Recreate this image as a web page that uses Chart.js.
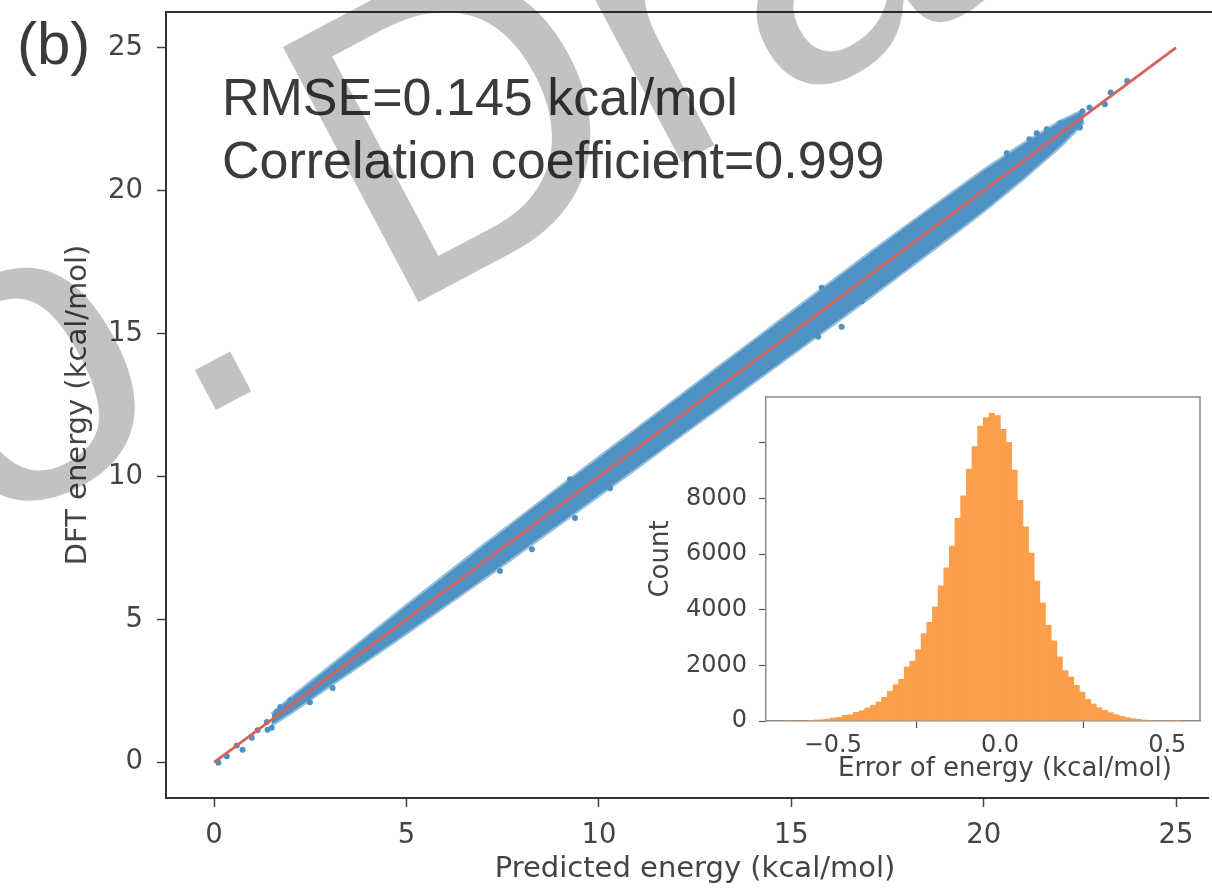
<!DOCTYPE html>
<html><head><meta charset="utf-8">
<script src="https://cdn.jsdelivr.net/npm/chart.js@4.4.1/dist/chart.umd.min.js"></script>
<style>
html,body{margin:0;padding:0;background:#fff;}
#wrap{position:relative;width:1212px;height:889px;overflow:hidden;background:#fff;}
#main{position:absolute;left:0;top:0;}
#inset{position:absolute;left:620px;top:385px;}
</style></head><body>
<div id="wrap"><canvas id="main" width="1212" height="889"></canvas><canvas id="inset" width="592" height="420"></canvas></div>
<script>
// ---- main panel data ----
const xTicks = [0, 5, 10, 15, 20, 25];
const yTicks = [0, 5, 10, 15, 20, 25];
const refLineX = [0, 25];
const refLineY = [0, 25];
// dense scatter band (visual envelope of the point cloud)
const bandX     = [1.5, 2, 3, 4, 5, 6, 7, 8, 9, 10, 11, 12, 13, 14, 15, 16, 17, 18, 19, 20, 21, 22, 22.6];
const bandUpper = [1.68, 2.25, 3.32, 4.4, 5.47, 6.52, 7.57, 8.6, 9.63, 10.65, 11.67, 12.68, 13.7, 14.71, 15.73, 16.75, 17.76, 18.75, 19.73, 20.7, 21.6, 22.42, 22.8];
const bandLower = [1.32, 1.75, 2.68, 3.6, 4.53, 5.48, 6.43, 7.4, 8.37, 9.35, 10.33, 11.32, 12.3, 13.29, 14.27, 15.25, 16.24, 17.25, 18.27, 19.3, 20.4, 21.58, 22.4];
// isolated points (cloud ends and outliers near the edges)
const sparseX = [0.11, 0.33, 0.59, 0.74, 0.98, 1.13, 1.39, 1.50, 1.37, 1.63, 1.72, 1.98, 2.23, 2.49, 2.58, 3.08, 2.93,
                 7.43, 8.26, 9.38, 10.29, 9.25, 15.79, 16.83, 17.13, 15.70, 16.31,
                 23.73, 23.30, 23.15, 22.75, 22.57, 22.50, 21.99, 21.64, 21.38, 21.19, 20.60, 20.38];
const sparseY = [-0.02, 0.21, 0.59, 0.44, 0.86, 1.12, 1.14, 1.21, 1.41, 1.75, 1.93, 2.16, 2.28, 2.10, 2.51, 2.60, 2.97,
                 6.69, 7.45, 8.55, 9.59, 9.90, 16.60, 16.13, 17.76, 14.89, 15.24,
                 23.84, 23.43, 23.02, 22.91, 22.78, 22.21, 22.36, 22.15, 22.01, 21.80, 21.31, 20.90];

// ---- inset histogram data ----
const binCenters = [-0.6326,-0.6157,-0.5988,-0.5819,-0.5650,-0.5481,-0.5312,-0.5144,-0.4975,-0.4806,
  -0.4637,-0.4468,-0.4299,-0.4130,-0.3961,-0.3793,-0.3624,-0.3455,-0.3286,-0.3117,
  -0.2948,-0.2779,-0.2611,-0.2442,-0.2273,-0.2104,-0.1935,-0.1766,-0.1597,-0.1429,
  -0.1260,-0.1091,-0.0922,-0.0753,-0.0584,-0.0415,-0.0247,-0.0078,0.0091,0.0260,
  0.0429,0.0598,0.0767,0.0935,0.1104,0.1273,0.1442,0.1611,0.1780,0.1949,
  0.2117,0.2286,0.2455,0.2624,0.2793,0.2962,0.3131,0.3299,0.3468,0.3637,
  0.3806,0.3975,0.4144,0.4312,0.4481,0.4650,0.4819,0.4988,0.5157,0.5326];
const binCounts = [5,10,15,25,36,48,60,84,120,144,
  216,240,324,384,480,576,696,864,1080,1320,
  1512,1956,2160,2580,3156,3564,4116,4872,5520,6300,
  7296,8112,9072,9876,10620,10920,11076,10992,10500,10032,
  9036,7944,6996,6048,5040,4260,3456,2892,2316,1824,
  1596,1296,1056,792,624,492,396,312,240,180,
  132,96,72,48,36,24,12,8,5,3];
const insetXTicks = [-0.5, 0, 0.5];
const insetXTickLabels = ['\u22120.5', '0.0', '0.5'];
const insetYTicks = [0, 2000, 4000, 6000, 8000, 10000];
const insetYTickLabels = ['0', '2000', '4000', '6000', '8000', ''];

const annoLines = ['RMSE=0.145 kcal/mol', 'Correlation coefficient=0.999'];
const panelLabel = '(b)';
const watermark = 'No. Draft';
const xTitle = 'Predicted energy (kcal/mol)';

const BLUE = '#4e92c4', BLUE_EDGE = 'rgba(78,146,196,0.6)', RED = '#d8605c', ORANGE = '#fb9f4b', INK = '#444444';

const zeroPad = s => { s.paddingTop = 0; s.paddingBottom = 0; s.paddingLeft = 0; s.paddingRight = 0; };

const mainDecor = {
  id: 'mainDecor',
  afterDraw(chart) {
    const ctx = chart.ctx, a = chart.chartArea;
    ctx.save();
    ctx.strokeStyle = '#333'; ctx.lineWidth = 2;
    ctx.beginPath(); ctx.moveTo(a.left - 1, a.top); ctx.lineTo(1212, a.top); ctx.stroke();
    ctx.fillStyle = INK;
    ctx.textBaseline = 'alphabetic'; ctx.textAlign = 'center';
    ctx.font = '29px "DejaVu Sans"';
    ctx.fillText(xTitle, 695, 877);
    ctx.fillStyle = '#3b3b3b';
    ctx.textAlign = 'left';
    ctx.font = '60px "Liberation Sans", Arial, sans-serif';
    ctx.fillText(panelLabel, 17, 64);
    ctx.font = '52px "Liberation Sans", Arial, sans-serif';
    ctx.fillText(annoLines[0], 222, 115);
    ctx.fillText(annoLines[1], 222, 178);
    // watermark
    ctx.globalCompositeOperation = 'multiply';
    ctx.fillStyle = '#c2c2c2';
    ctx.translate(-292, 680);
    ctx.rotate(-28 * Math.PI / 180);
    ctx.font = '420px "Liberation Sans", Arial, sans-serif';
    ctx.fillText(watermark, 0, 0);
    ctx.restore();
  }
};

new Chart(document.getElementById('main'), {
  type: 'scatter',
  data: {
    datasets: [
      { type: 'line', data: refLineX.map((v, i) => ({x: v, y: refLineY[i]})), borderColor: RED, borderWidth: 2.8, pointRadius: 0, fill: false, order: 0 },
      { type: 'scatter', data: sparseX.map((v, i) => ({x: v, y: sparseY[i]})), backgroundColor: BLUE, borderWidth: 0, pointRadius: 3, order: 1 },
      { type: 'line', data: bandX.map((v, i) => ({x: v, y: bandUpper[i]})), borderColor: BLUE_EDGE, backgroundColor: BLUE, borderWidth: 4, pointRadius: 0, fill: '+1', order: 2 },
      { type: 'line', data: bandX.map((v, i) => ({x: v, y: bandLower[i]})), borderColor: BLUE_EDGE, borderWidth: 4, pointRadius: 0, fill: false, order: 3 }
    ]
  },
  options: {
    responsive: false, animation: false, devicePixelRatio: 1,
    layout: { padding: { left: 0, right: 0, top: 12, bottom: 0 } },
    plugins: { legend: { display: false }, tooltip: { enabled: false } },
    scales: {
      x: {
        type: 'linear', min: -1.25, max: 25.83,
        afterBuildTicks: s => { s.ticks = xTicks.map(v => ({ value: v })); },
        afterFit: s => { s.height = 91; zeroPad(s); },
        grid: { display: true, drawOnChartArea: false, drawTicks: true, tickLength: 9, tickColor: '#444', tickWidth: 1.5 },
        border: { display: true, color: '#333', width: 2 },
        ticks: { font: { family: 'DejaVu Sans', size: 27.5 }, color: INK, padding: 12, maxRotation: 0, autoSkip: false },
        title: { display: false }
      },
      y: {
        type: 'linear', min: -1.25, max: 26.25,
        afterBuildTicks: s => { s.ticks = yTicks.map(v => ({ value: v })); },
        afterFit: s => { s.width = 166; zeroPad(s); },
        grid: { display: true, drawOnChartArea: false, drawTicks: true, tickLength: 9, tickColor: '#444', tickWidth: 1.5 },
        border: { display: true, color: '#333', width: 2 },
        ticks: { font: { family: 'DejaVu Sans', size: 27.5 }, color: INK, padding: 14, autoSkip: false },
        title: { display: true, text: 'DFT energy (kcal/mol)', font: { family: 'DejaVu Sans', size: 29 }, color: INK, padding: { top: 61, bottom: 0 } }
      }
    }
  },
  plugins: [mainDecor]
});

const insetDecor = {
  id: 'insetDecor',
  beforeDraw(chart) {
    const ctx = chart.ctx, a = chart.chartArea;
    ctx.save(); ctx.fillStyle = '#fff';
    ctx.fillRect(a.left, a.top, a.right - a.left, a.bottom - a.top);
    ctx.restore();
  },
  afterDraw(chart) {
    const ctx = chart.ctx, a = chart.chartArea;
    ctx.save(); ctx.strokeStyle = '#8a8a8a'; ctx.lineWidth = 1.5;
    ctx.beginPath();
    ctx.moveTo(a.left, a.top); ctx.lineTo(a.right, a.top); ctx.lineTo(a.right, a.bottom);
    ctx.stroke();
    ctx.fillStyle = INK;
    ctx.font = '26px "DejaVu Sans"';
    ctx.textAlign = 'center'; ctx.textBaseline = 'alphabetic';
    ctx.fillText('Error of energy (kcal/mol)', 385, 391);
    ctx.translate(48, (a.top + a.bottom) / 2);
    ctx.rotate(-Math.PI / 2);
    ctx.fillText('Count', 0, 0);
    ctx.restore();
  }
};

new Chart(document.getElementById('inset'), {
  type: 'bar',
  data: {
    datasets: [{ data: binCenters.map((v, i) => ({x: v, y: binCounts[i]})), backgroundColor: ORANGE, borderWidth: 0, barPercentage: 1.15, categoryPercentage: 1, grouped: false }]
  },
  options: {
    responsive: false, animation: false, devicePixelRatio: 1,
    layout: { padding: { left: 0, right: 12, top: 12, bottom: 0 } },
    plugins: { legend: { display: false }, tooltip: { enabled: false } },
    scales: {
      x: {
        type: 'linear', min: -0.70, max: 0.598, offset: false,
        afterBuildTicks: s => { s.ticks = insetXTicks.map(v => ({ value: v })); },
        afterFit: s => { s.height = 84; zeroPad(s); },
        grid: { display: true, drawOnChartArea: false, drawTicks: true, tickLength: 7, tickColor: '#555', tickWidth: 1.2 },
        border: { display: true, color: '#8a8a8a', width: 1.5 },
        ticks: { font: { family: 'DejaVu Sans', size: 24 }, color: INK, padding: 3, maxRotation: 0, autoSkip: false,
                 callback: (v, i) => insetXTickLabels[i] },
        title: { display: false }
      },
      y: {
        type: 'linear', min: 0, max: 11650,
        afterBuildTicks: s => { s.ticks = insetYTicks.map(v => ({ value: v })); },
        afterFit: s => { s.width = 146; zeroPad(s); },
        grid: { display: true, drawOnChartArea: false, drawTicks: true, tickLength: 7, tickColor: '#555', tickWidth: 1.2 },
        border: { display: true, color: '#8a8a8a', width: 1.5 },
        ticks: { font: { family: 'DejaVu Sans', size: 24 }, color: INK, padding: 12, autoSkip: false,
                 callback: (v, i) => insetYTickLabels[i] },
        title: { display: false }
      }
    }
  },
  plugins: [insetDecor]
});
</script>
</body></html>
